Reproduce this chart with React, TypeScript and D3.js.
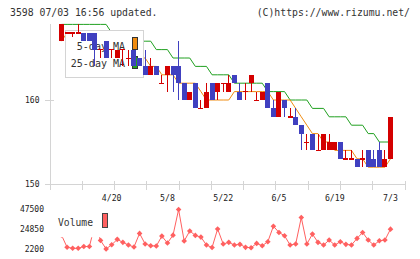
import * as d3 from "d3";

// trading days (2020), index 0 = 4/7
const dates = [
  "4/7", "4/8", "4/9", "4/10", "4/13", "4/14", "4/15", "4/16", "4/17", "4/20",
  "4/21", "4/22", "4/23", "4/24", "4/27", "4/28", "4/30", "5/1", "5/7", "5/8",
  "5/11", "5/12", "5/13", "5/14", "5/15", "5/18", "5/19", "5/20", "5/21", "5/22",
  "5/25", "5/26", "5/27", "5/28", "5/29", "6/1", "6/2", "6/3", "6/4", "6/5",
  "6/8", "6/9", "6/10", "6/11", "6/12", "6/15", "6/16", "6/17", "6/18", "6/19",
  "6/22", "6/23", "6/24", "6/25", "6/26", "6/29", "6/30", "7/1", "7/2", "7/3",
];
const dateLabels = ["4/20", "5/8", "5/22", "6/5", "6/19", "7/3"];

const open = [
  167, 168, 168, 168, 168, 168, 168, 166, 167, 166,
  165, 166, 165, 166, 165, 164, 163, 164, 162, 163,
  164, 164, 162, 160, 162, 159, 159, 162, 161, 162,
  161, 163, 161, 161, 162, 160, 160, 162, 159, 158,
  160, 158, 158, 157, 155, 156, 154, 154, 154, 154,
  155, 153, 153, 153, 153, 154, 153, 154, 152, 153,
];
const high = [
  169, 168, 168, 169, 168, 168, 168, 166, 167, 166,
  166, 166, 166, 166, 165, 166, 165, 164, 163, 164,
  164, 167, 162, 161, 162, 160, 162, 162, 162, 162,
  163, 163, 162, 162, 163, 161, 161, 162, 160, 161,
  160, 159, 159, 157, 156, 156, 156, 156, 156, 155,
  155, 154, 154, 153, 154, 154, 154, 155, 154, 158,
];
const low = [
  167, 168, 167.5, 168, 167, 167, 164, 165, 165, 165,
  165, 164, 164, 164, 164, 163, 163, 163, 162, 161,
  161, 160, 160, 160, 159, 159, 159, 160, 160, 161,
  161, 162, 160, 160, 161, 160, 160, 159, 158, 158,
  158, 158, 157, 154, 154, 154, 154, 154, 154, 154,
  153, 153, 153, 152, 152, 152, 152, 152, 152, 153,
];
const close = [
  169, 168, 168, 168, 167, 167, 166, 166, 165, 166,
  166, 166, 165, 164, 164, 163, 164, 163, 162, 164,
  163, 162, 160, 161, 159, 159, 161, 160, 162, 162,
  162, 162, 160, 161, 163, 160, 161, 159, 158, 161,
  159, 158, 157, 156, 155, 154, 154, 156, 155, 155,
  153, 153, 153, 152, 153, 152, 152, 152, 153, 158,
];

const ma5 = [
  167, 168, 168, 168, 168, 167, 167, 167, 166, 166,
  166, 166, 166, 165, 165, 165, 164, 164, 163, 163,
  163, 162, 162, 162, 162, 161, 160, 160, 160, 160,
  160, 161, 161, 161, 161, 161, 161, 161, 160, 160,
  160, 160, 159, 158, 157, 156, 156, 155, 155, 154,
  154, 154, 154, 153, 153, 152, 152, 152, 152, 153,
];
const ma25 = [
  169, 169, 169, 169, 169, 169, 169, 169, 169, 168,
  168, 168, 167, 167, 167, 167, 167, 166, 166, 166,
  165, 165, 165, 165, 164, 164, 164, 163, 163, 163,
  163, 162, 162, 162, 162, 162, 162, 161, 161, 161,
  161, 160, 160, 160, 160, 159, 159, 159, 158, 158,
  158, 158, 157, 157, 157, 156, 156, 155, 155, 155,
];

const volume = [
  18000, 4200, 3000, 3000, 5000, 5000, 30000, 12000, 2300, 7000,
  13200, 9800, 6700, 4500, 20000, 7900, 5900, 5600, 16900, 9000,
  18000, 47200, 11300, 22800, 17700, 15800, 6700, 3900, 25000, 7900,
  9800, 6700, 7500, 4100, 3700, 8600, 5900, 10500, 28200, 21100,
  17300, 6700, 7900, 38100, 7900, 19200, 9800, 6700, 12400, 6700,
  10500, 7500, 6700, 14300, 21100, 12400, 6700, 11600, 12400, 24850,
];

const priceTicks = [150, 160];
const volTicks = [2200, 24850, 47500];

const RED = "#d40000";
const BLUE = "#4040c0";
const ORANGE = "#f08c10";
const GREEN = "#20a020";
const VOL = "#ff6060";
const RULE = "#d4d4d4";
const TEXT = "#333";
const MONO = "'DejaVu Sans Mono', monospace";

export default function App() {
  const W = 420;
  const H = 259;
  const left = 50;
  const right = 405;
  const axisY = 184;

  const x = d3.scaleLinear().domain([0, dates.length - 1]).range([61.5, 390.5]);
  const y = d3.scaleLinear().domain([150, 169]).range([axisY, 24.4]);
  const yv = d3.scaleLinear().domain([2200, 47500]).range([249, 209.3]);

  const lineOf = (vals: number[]) =>
    d3
      .line<number>()
      .x((_, i) => x(i))
      .y((d) => y(d))(vals) ?? "";

  const volLine =
    d3
      .line<number>()
      .x((_, i) => x(i))
      .y((d) => yv(d))(volume) ?? "";

  // square diamond marker for the volume points
  const diamond = d3.symbol(d3.symbolDiamond2 ?? d3.symbolDiamond, 20)() ?? "";

  // 11 equal steps along the bottom axis
  const bottomTicks = d3.range(12).map((i) => left + (i * (right - left)) / 11);

  return (
    <div style={{ position: "absolute", left: 0, top: 0 }}>
      <svg width={W} height={H} style={{ display: "block", background: "#fff" }} fontFamily={MONO}>
        {/* header */}
        <text x={10} y={16} fontSize={9.8} fill={TEXT}>
          3598 07/03 16:56 updated.
        </text>
        <text x={410} y={16} fontSize={9.8} fill={TEXT} textAnchor="end">
          (C)https://www.rizumu.net/
        </text>

        {/* axes */}
        <g shapeRendering="crispEdges" stroke={RULE} strokeWidth={1}>
          <line x1={left} x2={left} y1={y(169)} y2={190} />
          <line x1={45} x2={right + 0.5} y1={axisY} y2={axisY} />
          {priceTicks.map((t) => (
            <line key={`pt-${t}`} x1={45} x2={54} y1={y(t)} y2={y(t)} />
          ))}
          {bottomTicks.map((t, i) => (
            <line key={`bt-${i}`} x1={t} x2={t} y1={181} y2={190} />
          ))}
        </g>
        {priceTicks.map((t) => (
          <text key={`pl-${t}`} x={39.5} y={y(t) + 3} fontSize={8} fill="#222" textAnchor="end">
            {t}
          </text>
        ))}
        {dateLabels.map((d) => (
          <text key={`dl-${d}`} x={x(dates.indexOf(d))} y={201} fontSize={8.2} fill="#222" textAnchor="middle">
            {d}
          </text>
        ))}

        {/* moving averages */}
        <path d={lineOf(ma25)} fill="none" stroke={GREEN} strokeWidth={1} />
        <path d={lineOf(ma5)} fill="none" stroke={ORANGE} strokeWidth={1} />

        {/* legend, sits under the candles */}
        <rect x={65.5} y={30.5} width={77.5} height={46.5} fill="#fff" stroke={RULE} strokeWidth={1} shapeRendering="crispEdges" />
        <text x={125} y={50} fontSize={10} fill={TEXT} textAnchor="end">5-day MA</text>
        <text x={125} y={67} fontSize={10} fill={TEXT} textAnchor="end">25-day MA</text>
        <rect x={132} y={37.5} width={5} height={12} fill={ORANGE} stroke="#333" shapeRendering="crispEdges" />
        <rect x={132} y={56.5} width={5} height={12} fill={GREEN} stroke="#333" shapeRendering="crispEdges" />

        {/* candles */}
        <g shapeRendering="crispEdges">
          {dates.map((d, i) => {
            const up = close[i] >= open[i];
            const col = up ? RED : BLUE;
            const cx = x(i);
            const top = y(Math.max(open[i], close[i]));
            const bot = y(Math.min(open[i], close[i]));
            return (
              <g key={d}>
                <line x1={cx} x2={cx} y1={y(high[i])} y2={y(low[i])} stroke={col} strokeWidth={1} />
                {open[i] === close[i] ? (
                  <rect x={cx - 2.5} y={top - 0.5} width={5} height={1.2} fill={col} />
                ) : (
                  <rect x={cx - 2.5} y={top} width={5} height={bot - top} fill={col} />
                )}
              </g>
            );
          })}
        </g>

        {/* volume */}
        <path d={volLine} fill="none" stroke={VOL} strokeWidth={1} />
        {volume.map((v, i) => (
          <path key={`vd-${i}`} d={diamond} transform={`translate(${x(i)},${yv(v)})`} fill={VOL} />
        ))}
        <rect x={54} y={205} width={56} height={32.3} fill="#fff" />
        <text x={58} y={225.5} fontSize={9.7} fill={TEXT}>Volume</text>
        <rect x={102} y={213.5} width={5} height={14} fill={VOL} stroke="#444" shapeRendering="crispEdges" />
        {volTicks.map((t) => (
          <text key={`vl-${t}`} x={44} y={yv(t) + 3} fontSize={8} fill="#222" textAnchor="end">
            {t}
          </text>
        ))}
      </svg>
    </div>
  );
}
